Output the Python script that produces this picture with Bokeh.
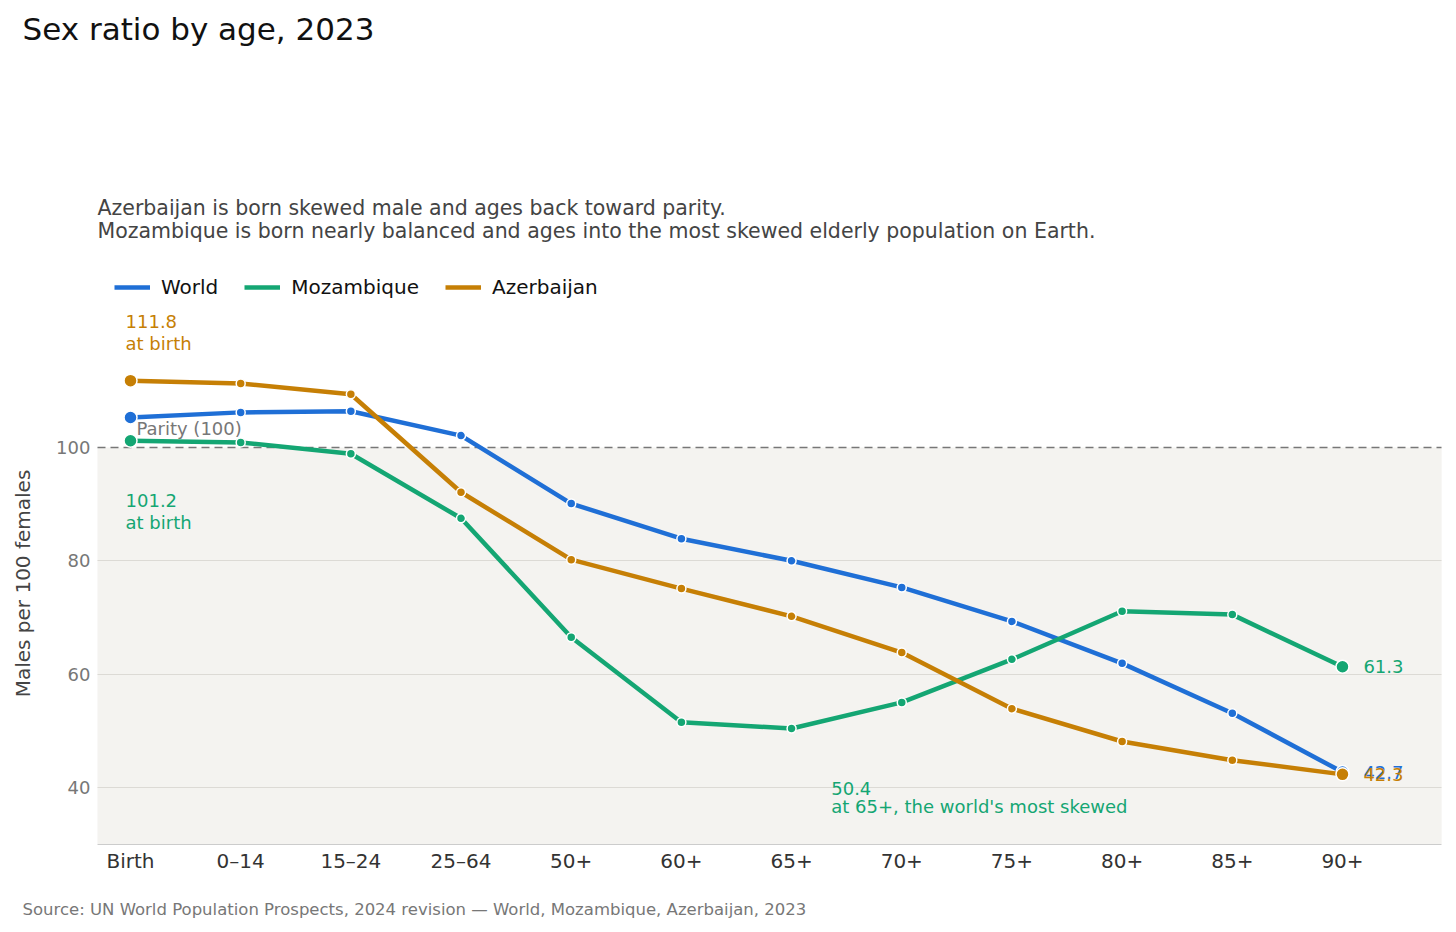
import math

from bokeh.embed import file_html
from bokeh.models import (BoxAnnotation, ColumnDataSource, FixedTicker, Grid, Label,
                          Range1d)
from bokeh.plotting import figure
from bokeh.resources import INLINE

# data
ages = ["Birth", "0–14", "15–24", "25–64", "50+", "60+", "65+", "70+", "75+",
        "80+", "85+", "90+"]
world = [105.3, 106.2, 106.4, 102.1, 90.1, 83.9, 80.0, 75.3, 69.3, 61.9, 53.1, 42.7]
mozambique = [101.2, 100.9, 98.9, 87.5, 66.5, 51.5, 50.4, 55.0, 62.6, 71.1, 70.5, 61.3]
azerbaijan = [111.8, 111.3, 109.4, 92.1, 80.2, 75.1, 70.2, 63.8, 53.9, 48.1, 44.8, 42.3]
y_ticks = [40, 60, 80, 100]

series = [
    ("World", world, "#1f6fd6"),
    ("Mozambique", mozambique, "#14a673"),
    ("Azerbaijan", azerbaijan, "#c67f05"),
]

FONT = "DejaVu Sans"
W, H = 1448, 924
# the frame fills the whole canvas; the axes sit at fixed spots inside it
X0_PX, X_STEP = 130, 110.18        # pixel of "Birth", pixels per category
Y100_PX, Y_PER = 447, 5.665        # pixel of 100, pixels per unit
X_LO, X_HI = -0.3, 11.9            # plotting area in data units
Y_LO = 30

x = list(range(len(ages)))

p = figure(
    width=W, height=H,
    x_range=Range1d(-X0_PX / X_STEP, (W - X0_PX) / X_STEP),
    y_range=Range1d(100 - (H - Y100_PX) / Y_PER, 100 + Y100_PX / Y_PER),
    output_backend="svg", toolbar_location=None, min_border=0,
    background_fill_color="white", border_fill_color="white",
)
p.outline_line_color = None

# shaded band below parity
p.add_layout(BoxAnnotation(left=X_LO, right=X_HI, bottom=Y_LO, top=100,
                           fill_color="#f4f3f0", fill_alpha=1.0, line_color=None,
                           level="image"))
p.xgrid.visible = False
p.ygrid.ticker = FixedTicker(ticks=[t for t in y_ticks if t != 100])
p.ygrid.grid_line_color = "#dcdad5"
p.ygrid.grid_line_width = 1
p.ygrid.cross_bounds = (X_LO, X_HI)
parity = Grid(dimension=1, ticker=FixedTicker(ticks=[100]), cross_bounds=(X_LO, X_HI),
              grid_line_color="#777777", grid_line_dash="8 5", grid_line_width=1.6)
p.add_layout(parity)

for name, vals, color in series:
    src = ColumnDataSource(dict(x=x, y=vals))
    p.line("x", "y", source=src, line_color=color, line_width=4.5, legend_label=name)
    p.scatter("x", "y", source=src, size=9, fill_color=color, line_color="white",
              line_width=1.5)
    ends = ColumnDataSource(dict(x=[x[0], x[-1]], y=[vals[0], vals[-1]]))
    p.scatter("x", "y", source=ends, size=13, fill_color=color, line_color="white",
              line_width=1.5)
    # end value labels
    p.add_layout(Label(x=x[-1] + 0.19, y=vals[-1], text=f"{vals[-1]:.1f}",
                       text_color=color, text_font=FONT, text_font_size="18px",
                       text_baseline="middle"))

legend = p.legend[0]
legend.orientation = "horizontal"
legend.location = (114, H - 299)
legend.glyph_width = 36
legend.glyph_height = 20
legend.label_height = 20
legend.label_standoff = 11
legend.spacing = 26
legend.padding = 0
legend.margin = 0
legend.border_line_color = None
legend.background_fill_alpha = 0
legend.label_text_font = FONT
legend.label_text_font_size = "20px"
legend.label_text_color = "#111111"

# annotations
azer_c, moz_c = series[2][2], series[1][2]
notes = [
    (-0.045, 122.2, f"{azerbaijan[0]:.1f}", azer_c),
    (-0.045, 118.4, "at birth", azer_c),
    (-0.045, 90.6, f"{mozambique[0]:.1f}", moz_c),
    (-0.045, 86.8, "at birth", moz_c),
    (0.054, 103.4, "Parity (100)", "#777777"),
    (6.36, 39.8, f"{min(mozambique):.1f}", moz_c),
    (6.36, 36.6, "at 65+, the world's most skewed", moz_c),
]
for nx, ny, txt, col in notes:
    p.add_layout(Label(x=nx, y=ny, text=txt, text_color=col, text_font=FONT,
                       text_font_size="18px", text_baseline="middle"))

# title, subtitle, axis title and source (pixels from the canvas top-left)
def screen_label(px, py, txt, size, color, **kw):
    p.add_layout(Label(x=px, y=H - py, x_units="screen", y_units="screen", text=txt,
                       text_color=color, text_font=FONT, text_font_size=size,
                       text_baseline="middle", **kw))

screen_label(22, 28, "Sex ratio by age, 2023", "31px", "#111111")
screen_label(97, 207, "Azerbaijan is born skewed male and ages back toward parity.",
             "20.5px", "#444444")
screen_label(97, 230, "Mozambique is born nearly balanced and ages into the most "
                      "skewed elderly population on Earth.", "20.5px", "#444444")
screen_label(22, 583, "Males per 100 females", "20px", "#444444",
             angle=math.pi / 2, text_align="center")
screen_label(22, 909, "Source: UN World Population Prospects, 2024 revision — World, "
                      "Mozambique, Azerbaijan, 2023", "16.5px", "#777777")

# axes, pinned inside the frame
p.xaxis.fixed_location = Y_LO
p.xaxis.bounds = (X_LO, X_HI)
p.xaxis.ticker = FixedTicker(ticks=x)
p.xaxis.major_label_overrides = {i: a for i, a in enumerate(ages)}
p.xaxis.major_label_text_font = FONT
p.xaxis.major_label_text_font_size = "20px"
p.xaxis.major_label_text_color = "#333333"
p.xaxis.major_label_standoff = 5
p.xaxis.axis_line_color = "#cccccc"
p.xaxis.major_tick_line_color = None
p.xaxis.minor_tick_line_color = None
p.xaxis.major_tick_out = 0
p.xaxis.minor_tick_out = 0

p.yaxis.fixed_location = X_LO
p.yaxis.ticker = FixedTicker(ticks=y_ticks)
p.yaxis.major_label_text_font = FONT
p.yaxis.major_label_text_font_size = "18px"
p.yaxis.major_label_text_color = "#777777"
p.yaxis.major_label_standoff = 7
p.yaxis.axis_line_color = None
p.yaxis.major_tick_line_color = None
p.yaxis.minor_tick_line_color = None
p.yaxis.major_tick_out = 0
p.yaxis.minor_tick_out = 0

open("out.html", "w").write(file_html(p, INLINE))
